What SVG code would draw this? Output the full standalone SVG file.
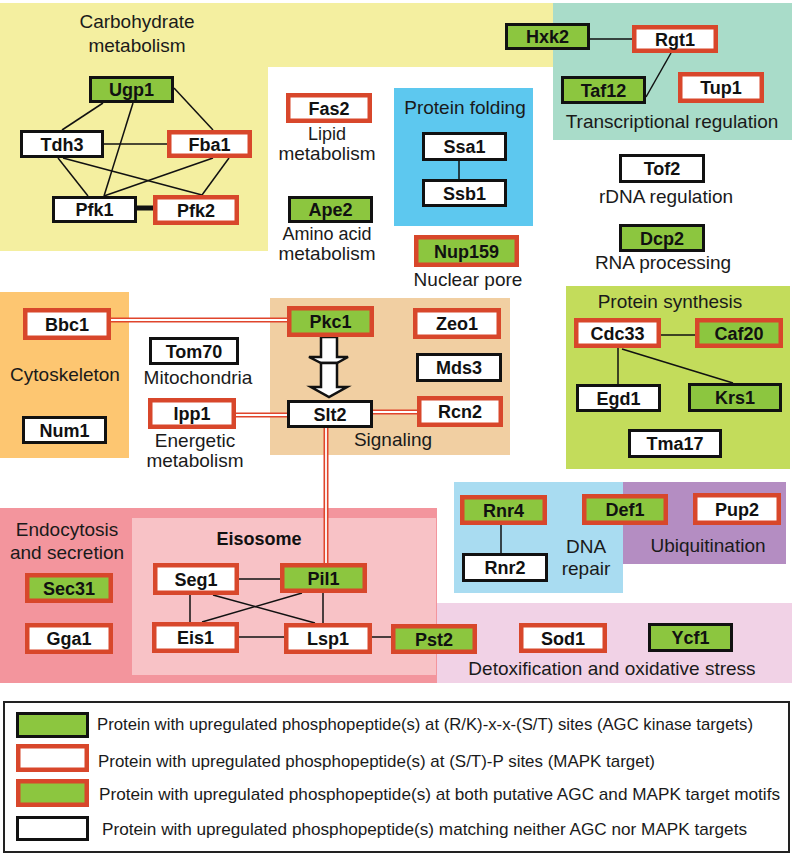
<svg xmlns="http://www.w3.org/2000/svg" width="793" height="855" viewBox="0 0 793 855">
<style>
.lbl{font-family:"Liberation Sans",Arial,sans-serif;font-size:19px;fill:#1a1a1a;text-anchor:middle}
.sm{font-size:18px}
.nt{font-family:"Liberation Sans",Arial,sans-serif;font-size:18px;font-weight:bold;fill:#111;text-anchor:middle}
.G{fill:#8cc63f;stroke:#111;stroke-width:3}
.N{fill:#fff;stroke:#111;stroke-width:3}
.R{fill:#fff;stroke:#d8472b;stroke-width:4.5}
.B{fill:#8cc63f;stroke:#d8472b;stroke-width:4.5}
.e{stroke:#111;stroke-width:1.5;fill:none}
.dr{stroke:#e0452c;stroke-width:5;fill:none}
.dw{stroke:#fff;stroke-width:1.8;fill:none}
.leg{font-family:"Liberation Sans",Arial,sans-serif;font-size:17px;fill:#1a1a1a}
</style>
<rect width="793" height="855" fill="#fff"/>
<g id="regions">
<path d="M0,3 H553 V67 H268 V251 H0 Z" fill="#f4efa0"/>
<rect x="553" y="3" width="239" height="137" fill="#a9dcc9"/>
<rect x="394" y="88" width="139" height="138" fill="#5dc8ef"/>
<rect x="0" y="292" width="129" height="166" fill="#fdc671"/>
<rect x="270" y="298" width="240" height="157" fill="#f1cfa2"/>
<rect x="566" y="286" width="224" height="183" fill="#c3dc5b"/>
<rect x="454" y="482" width="169" height="111" fill="#a9dcf1"/>
<rect x="623" y="482" width="163" height="82" fill="#b48dc2"/>
<rect x="436" y="603" width="356" height="80" fill="#f1d2e6"/>
<rect x="0" y="508" width="437" height="175" fill="#f3959d"/>
<rect x="132" y="518" width="304" height="157" fill="#f8c2c6"/>
</g>
<g id="labels">
<text class="lbl" x="137" y="28">Carbohydrate</text>
<text class="lbl" x="137" y="52">metabolism</text>
<text class="lbl sm" x="327" y="140">Lipid</text>
<text class="lbl" x="327" y="160">metabolism</text>
<text class="lbl sm" x="327" y="240">Amino acid</text>
<text class="lbl" x="327" y="260">metabolism</text>
<text class="lbl" x="465" y="114">Protein folding</text>
<text class="lbl" x="468" y="286">Nuclear pore</text>
<text class="lbl" x="672" y="128">Transcriptional regulation</text>
<text class="lbl" x="666" y="203">rDNA regulation</text>
<text class="lbl" x="663" y="269">RNA processing</text>
<text class="lbl" x="65" y="381">Cytoskeleton</text>
<text class="lbl" x="198" y="384">Mitochondria</text>
<text class="lbl" x="195" y="447">Energetic</text>
<text class="lbl" x="195" y="467">metabolism</text>
<text class="lbl" x="393" y="446">Signaling</text>
<text class="lbl" x="670" y="308">Protein synthesis</text>
<text class="lbl" x="586" y="553">DNA</text>
<text class="lbl" x="586" y="575">repair</text>
<text class="lbl" x="708" y="552">Ubiquitination</text>
<text class="lbl" x="612" y="675">Detoxification and oxidative stress</text>
<text class="lbl" x="67" y="536">Endocytosis</text>
<text class="lbl" x="67" y="559">and secretion</text>
<text class="nt" x="259" y="545">Eisosome</text>
</g>
<g id="connectors">
<line class="e" x1="103" y1="103" x2="62" y2="130"/>
<line class="e" x1="133" y1="103" x2="104" y2="196"/>
<line class="e" x1="174" y1="88" x2="213" y2="130"/>
<line class="e" x1="104" y1="144" x2="167" y2="144"/>
<line class="e" x1="58" y1="158" x2="88" y2="196"/>
<line class="e" x1="63" y1="158" x2="202" y2="195"/>
<line class="e" x1="213" y1="158" x2="104" y2="196"/>
<line class="e" x1="229" y1="158" x2="202" y2="195"/>
<line x1="137" y1="208" x2="153" y2="208" stroke="#111" stroke-width="5"/>
<line class="e" x1="459" y1="161" x2="459" y2="179"/>
<line class="e" x1="590" y1="39" x2="632" y2="39"/>
<line class="e" x1="671" y1="53" x2="646" y2="97"/>
<line class="e" x1="661" y1="335" x2="695" y2="335"/>
<line class="e" x1="618" y1="348" x2="618" y2="384"/>
<line class="e" x1="622" y1="349" x2="733" y2="383"/>
<line class="e" x1="501" y1="525" x2="501" y2="553"/>
<line class="e" x1="239" y1="579" x2="280" y2="579"/>
<line class="e" x1="190" y1="595" x2="190" y2="622"/>
<line class="e" x1="213" y1="595" x2="315" y2="623"/>
<line class="e" x1="302" y1="593" x2="202" y2="622"/>
<line class="e" x1="323" y1="593" x2="323" y2="623"/>
<line class="e" x1="239" y1="637" x2="284" y2="637"/>
<line class="e" x1="372" y1="637" x2="391" y2="637"/>
<path class="dr" d="M111,320 H287 M236,415 H287 M373,412 H417 M326,428 V563"/>
<path class="dw" d="M111,320 H287 M236,415 H287 M373,412 H417 M326,428 V563"/>
<path d="M321,337 H337 V357 H348 L337,363 H321 L309,357 H321 Z" fill="#fff" stroke="#111" stroke-width="2.5" stroke-linejoin="miter"/>
<path d="M321,363 H337 V387 H347 L329,397 L311,387 H321 Z" fill="#fff" stroke="#111" stroke-width="2.5"/>
</g>
<g id="n-ugp1"><rect class="G" x="90.5" y="77.5" width="82" height="24"/><text class="nt" x="131.5" y="96">Ugp1</text></g>
<g id="n-tdh3"><rect class="N" x="21.5" y="131.5" width="81" height="25"/><text class="nt" x="62" y="150.5">Tdh3</text></g>
<g id="n-fba1"><rect class="R" x="169.25" y="132.25" width="80.5" height="23.5"/><text class="nt" x="209.5" y="150.5">Fba1</text></g>
<g id="n-pfk1"><rect class="N" x="53.5" y="197.5" width="82" height="24"/><text class="nt" x="94.5" y="216">Pfk1</text></g>
<g id="n-pfk2"><rect class="R" x="155.25" y="197.25" width="81.5" height="25.5"/><text class="nt" x="196" y="216.5">Pfk2</text></g>
<g id="n-fas2"><rect class="R" x="288.25" y="95.25" width="81.5" height="25.5"/><text class="nt" x="329" y="114.5">Fas2</text></g>
<g id="n-ape2"><rect class="G" x="289.5" y="197.5" width="82" height="24"/><text class="nt" x="330.5" y="216">Ape2</text></g>
<g id="n-ssa1"><rect class="N" x="423.5" y="133.5" width="82" height="26"/><text class="nt" x="464.5" y="153">Ssa1</text></g>
<g id="n-ssb1"><rect class="N" x="423.5" y="180.5" width="82" height="25"/><text class="nt" x="464.5" y="199.5">Ssb1</text></g>
<g id="n-nup159"><rect class="B" x="416.25" y="237.25" width="100.5" height="27.5"/><text class="nt" x="466.5" y="257.5">Nup159</text></g>
<g id="n-hxk2"><rect class="G" x="506.5" y="24.5" width="82" height="24"/><text class="nt" x="547.5" y="43">Hxk2</text></g>
<g id="n-rgt1"><rect class="R" x="634.25" y="27.25" width="81.5" height="23.5"/><text class="nt" x="675" y="45.5">Rgt1</text></g>
<g id="n-taf12"><rect class="G" x="562.5" y="77.5" width="82" height="25"/><text class="nt" x="603.5" y="96.5">Taf12</text></g>
<g id="n-tup1"><rect class="R" x="680.25" y="74.25" width="81.5" height="26.5"/><text class="nt" x="721" y="94">Tup1</text></g>
<g id="n-tof2"><rect class="N" x="620.5" y="155.5" width="83" height="26"/><text class="nt" x="662" y="175">Tof2</text></g>
<g id="n-dcp2"><rect class="G" x="620.5" y="225.5" width="83" height="25"/><text class="nt" x="662" y="244.5">Dcp2</text></g>
<g id="n-bbc1"><rect class="R" x="25.25" y="310.25" width="83.5" height="27.5"/><text class="nt" x="67" y="330.5">Bbc1</text></g>
<g id="n-num1"><rect class="N" x="23.5" y="417.5" width="82" height="25"/><text class="nt" x="64.5" y="436.5">Num1</text></g>
<g id="n-tom70"><rect class="N" x="150.5" y="338.5" width="87" height="25"/><text class="nt" x="194" y="357.5">Tom70</text></g>
<g id="n-ipp1"><rect class="R" x="150.25" y="400.25" width="83.5" height="26.5"/><text class="nt" x="192" y="420">Ipp1</text></g>
<g id="n-pkc1"><rect class="B" x="289.25" y="308.25" width="82.5" height="26.5"/><text class="nt" x="330.5" y="328">Pkc1</text></g>
<g id="n-zeo1"><rect class="R" x="415.25" y="310.25" width="83.5" height="26.5"/><text class="nt" x="457" y="330">Zeo1</text></g>
<g id="n-mds3"><rect class="N" x="417.5" y="354.5" width="83" height="26"/><text class="nt" x="459" y="374">Mds3</text></g>
<g id="n-slt2"><rect class="N" x="288.5" y="401.5" width="83" height="25"/><text class="nt" x="330" y="420.5">Slt2</text></g>
<g id="n-rcn2"><rect class="R" x="419.25" y="398.25" width="81.5" height="26.5"/><text class="nt" x="460" y="418">Rcn2</text></g>
<g id="n-cdc33"><rect class="R" x="576.25" y="320.25" width="82.5" height="25.5"/><text class="nt" x="617.5" y="339.5">Cdc33</text></g>
<g id="n-caf20"><rect class="B" x="697.25" y="320.25" width="83.5" height="25.5"/><text class="nt" x="739" y="339.5">Caf20</text></g>
<g id="n-egd1"><rect class="N" x="577.5" y="385.5" width="82" height="25"/><text class="nt" x="618.5" y="404.5">Egd1</text></g>
<g id="n-krs1"><rect class="G" x="689.5" y="384.5" width="91" height="26"/><text class="nt" x="735" y="404">Krs1</text></g>
<g id="n-tma17"><rect class="N" x="629.5" y="430.5" width="91" height="26"/><text class="nt" x="675" y="450">Tma17</text></g>
<g id="n-rnr4"><rect class="B" x="462.25" y="497.25" width="82.5" height="25.5"/><text class="nt" x="503.5" y="516.5">Rnr4</text></g>
<g id="n-rnr2"><rect class="N" x="463.5" y="554.5" width="83" height="26"/><text class="nt" x="505" y="574">Rnr2</text></g>
<g id="n-def1"><rect class="B" x="584.25" y="496.25" width="81.5" height="26.5"/><text class="nt" x="625" y="516">Def1</text></g>
<g id="n-pup2"><rect class="R" x="695.25" y="495.25" width="83.5" height="27.5"/><text class="nt" x="737" y="515.5">Pup2</text></g>
<g id="n-sec31"><rect class="B" x="27.25" y="575.25" width="83.5" height="25.5"/><text class="nt" x="69" y="594.5">Sec31</text></g>
<g id="n-gga1"><rect class="R" x="27.25" y="625.25" width="83.5" height="26.5"/><text class="nt" x="69" y="645">Gga1</text></g>
<g id="n-seg1"><rect class="R" x="155.25" y="565.25" width="81.5" height="27.5"/><text class="nt" x="196" y="585.5">Seg1</text></g>
<g id="n-pil1"><rect class="B" x="282.25" y="565.25" width="82.5" height="25.5"/><text class="nt" x="323.5" y="584.5">Pil1</text></g>
<g id="n-eis1"><rect class="R" x="154.25" y="624.25" width="82.5" height="26.5"/><text class="nt" x="195.5" y="644">Eis1</text></g>
<g id="n-lsp1"><rect class="R" x="286.25" y="625.25" width="83.5" height="26.5"/><text class="nt" x="328" y="645">Lsp1</text></g>
<g id="n-pst2"><rect class="B" x="393.25" y="626.25" width="81.5" height="25.5"/><text class="nt" x="434" y="645.5">Pst2</text></g>
<g id="n-sod1"><rect class="R" x="521.25" y="625.25" width="83.5" height="25.5"/><text class="nt" x="563" y="644.5">Sod1</text></g>
<g id="n-ycf1"><rect class="G" x="649.5" y="624.5" width="82" height="26"/><text class="nt" x="690.5" y="644">Ycf1</text></g>
<g id="legend">
<rect x="4" y="702" width="785" height="150" fill="#fff" stroke="#222" stroke-width="2"/>
<rect class="G" x="17.5" y="713.5" width="70" height="23"/>
<rect class="R" x="18.25" y="746.25" width="68.5" height="23.5"/>
<rect class="B" x="18.25" y="781.25" width="68.5" height="23.5"/>
<rect class="N" x="17.5" y="817.5" width="70" height="22"/>
<text class="leg" x="97" y="730" textLength="656" lengthAdjust="spacingAndGlyphs">Protein with upregulated phosphopeptide(s) at (R/K)-x-x-(S/T) sites (AGC kinase targets)</text>
<text class="leg" x="98" y="767" textLength="557" lengthAdjust="spacingAndGlyphs">Protein with upregulated phosphopeptide(s) at (S/T)-P sites (MAPK target)</text>
<text class="leg" x="99" y="800" textLength="681" lengthAdjust="spacingAndGlyphs">Protein with upregulated phosphopeptide(s) at both putative AGC and MAPK target motifs</text>
<text class="leg" x="102" y="835" textLength="645" lengthAdjust="spacingAndGlyphs">Protein with upregulated phosphopeptide(s) matching neither AGC nor MAPK targets</text>
</g>
</svg>
